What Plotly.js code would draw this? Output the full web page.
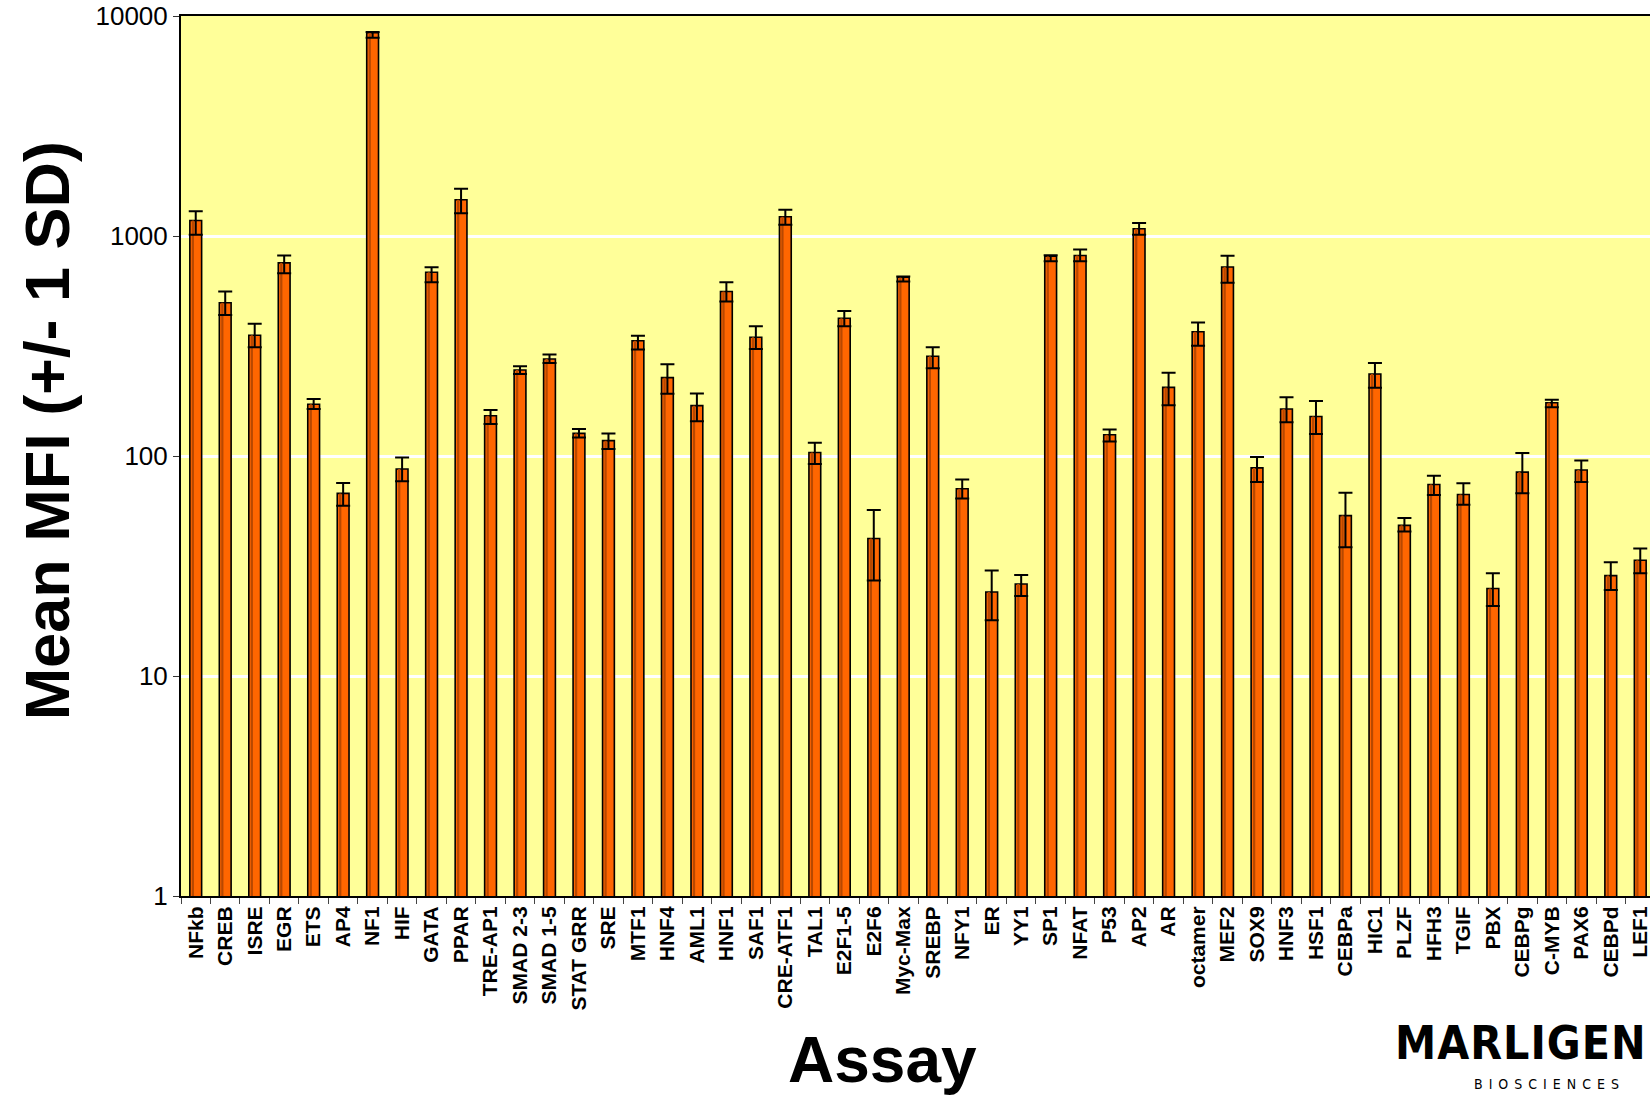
<!DOCTYPE html>
<html>
<head>
<meta charset="utf-8">
<title>Mean MFI by assay</title>
<script src="https://cdn.plot.ly/plotly-3.0.1.min.js"></script>
<style>
  html, body { margin: 0; padding: 0; background: #ffffff; overflow: hidden; }
  #chart { width: 1700px; height: 1095px; }
</style>
</head>
<body>
<div id="chart"></div>
<script>
// Transcription-factor assays, in plotting order
const assays = [
  'NFkb', 'CREB', 'ISRE', 'EGR', 'ETS', 'AP4', 'NF1', 'HIF', 'GATA', 'PPAR',
  'TRE-AP1', 'SMAD 2-3', 'SMAD 1-5', 'STAT GRR', 'SRE', 'MTF1', 'HNF4', 'AML1', 'HNF1', 'SAF1',
  'CRE-ATF1', 'TAL1', 'E2F1-5', 'E2F6', 'Myc-Max', 'SREBP', 'NFY1', 'ER', 'YY1', 'SP1',
  'NFAT', 'P53', 'AP2', 'AR', 'octamer', 'MEF2', 'SOX9', 'HNF3', 'HSF1', 'CEBPa',
  'HIC1', 'PLZF', 'HFH3', 'TGIF', 'PBX', 'CEBPg', 'C-MYB', 'PAX6', 'CEBPd', 'LEF1'
];

// Mean MFI per assay
const meanMFI = [
  1176, 497, 354, 755, 172, 67.6, 8400, 87.3, 684, 1461,
  152.5, 246, 276, 126.7, 117.4, 334, 227, 169.4, 559, 346.5,
  1223, 103.8, 423, 42.2, 649, 284, 71.0, 24.1, 26.2, 809,
  815, 125, 1078, 205, 367, 723, 88.3, 163.6, 151.2, 53.6,
  236, 48.4, 74.2, 66.8, 25.0, 84.5, 174.6, 86.4, 28.6, 33.6
];

// Upper whisker length (+1 SD)
const sdPlus = [
  121, 62, 45, 60, 9.6, 7.8, 60, 11.2, 37, 178,
  9.5, 9.7, 13, 6.0, 9.3, 17.6, 34, 23.2, 57, 42.3,
  93, 11.2, 33.7, 14.7, 5.2, 28, 7.2, 6.1, 2.6, 8.8,
  53, 7.1, 68, 33.8, 37, 90, 10.6, 21.2, 26.5, 14.4,
  29, 3.8, 7.1, 8.3, 4.3, 18.7, 5.4, 9.0, 4.3, 4.4
];

// Lower whisker length (-1 SD)
const sdMinus = [
  163, 59, 42, 78, 8.4, 8.2, 427, 10.5, 68, 192,
  12.7, 10, 11, 5.2, 9.8, 29.5, 35, 25.7, 55.4, 39.7,
  98.4, 11.8, 34.2, 15.0, 28, 33.7, 6.9, 6.2, 3.1, 41,
  47, 8.5, 64, 35, 50, 110, 12.1, 21.3, 25.2, 15.1,
  31.7, 3.0, 7.7, 6.8, 4.2, 16.8, 8.1, 10.2, 4.0, 4.3
];

// Log-axis tick positions and their labels
const yTickVals = [1, 10, 100, 1000, 10000];
const yTickText = ['1', '10', '100', '1000', '10000'];

const FONT = 'Arial, "Liberation Sans", sans-serif';
const LOGO_FONT = '"DejaVu Sans Condensed", "DejaVu Sans", sans-serif';

// Main orange bars with black outline
const barTrace = {
  type: 'bar',
  x: assays,
  y: meanMFI,
  width: 0.4,
  marker: { color: '#FF6600', line: { color: '#000000', width: 1.6 } },
  hoverinfo: 'x+y',
  showlegend: false
};

// Darker shading stripe inside each bar
const shadeTrace = {
  type: 'bar',
  x: assays,
  y: meanMFI,
  width: 0.075,
  offset: -0.135,
  marker: { color: '#B84800', line: { width: 0 } },
  hoverinfo: 'skip',
  showlegend: false
};

// +/- 1 SD whiskers drawn on top of the bars
const errTrace = {
  type: 'scatter',
  mode: 'markers',
  x: assays,
  y: meanMFI,
  marker: { size: 1, color: 'rgba(0,0,0,0)' },
  error_y: {
    type: 'data',
    symmetric: false,
    array: sdPlus,
    arrayminus: sdMinus,
    color: '#000000',
    thickness: 2,
    width: 7
  },
  hoverinfo: 'skip',
  showlegend: false
};

const layout = {
  width: 1700,
  height: 1095,
  margin: { l: 181, r: 45, t: 16, b: 199 },
  paper_bgcolor: '#ffffff',
  plot_bgcolor: '#FFFF99',
  barmode: 'overlay',
  font: { family: FONT, color: '#000000' },
  xaxis: {
    type: 'category',
    range: [-0.5, 49.5],
    tickangle: -90,
    tickfont: { family: FONT, size: 21, color: '#000000', weight: 'bold' },
    ticks: 'outside',
    tickson: 'boundaries',
    ticklen: 6,
    tickwidth: 1,
    tickcolor: '#444444',
    showline: true,
    linecolor: '#000000',
    linewidth: 2,
    mirror: true,
    showgrid: false,
    zeroline: false,
    fixedrange: true
  },
  yaxis: {
    type: 'log',
    range: [0, 4],
    tickmode: 'array',
    tickvals: yTickVals,
    ticktext: yTickText,
    tickfont: { family: FONT, size: 26, color: '#000000' },
    ticks: 'outside',
    ticklen: 6,
    tickwidth: 1,
    tickcolor: '#333333',
    showline: true,
    linecolor: '#000000',
    linewidth: 2,
    showgrid: true,
    gridcolor: '#ffffff',
    gridwidth: 3,
    zeroline: false,
    fixedrange: true
  },
  annotations: [
    {
      text: 'Mean MFI (+/- 1 SD)',
      textangle: -90,
      xref: 'paper', yref: 'paper',
      x: -0.0909, y: 0.528,
      xanchor: 'center', yanchor: 'middle',
      showarrow: false,
      font: { family: FONT, size: 63, color: '#000000', weight: 'bold' }
    },
    {
      text: 'Assay',
      xref: 'paper', yref: 'paper',
      x: 0.4759, y: -0.186,
      xanchor: 'center', yanchor: 'middle',
      showarrow: false,
      font: { family: FONT, size: 64, color: '#000000', weight: 'bold' }
    },
    {
      text: '<span style="letter-spacing:1px">MARLIGEN</span>',
      xref: 'paper', yref: 'paper',
      x: 0.8222, y: -0.1665,
      xanchor: 'left', yanchor: 'middle',
      showarrow: false,
      font: { family: LOGO_FONT, size: 46, color: '#000000', weight: 'bold' }
    },
    {
      text: '<span style="letter-spacing:6px">BIOSCIENCES</span>',
      xref: 'paper', yref: 'paper',
      x: 0.8759, y: -0.214,
      xanchor: 'left', yanchor: 'middle',
      showarrow: false,
      font: { family: LOGO_FONT, size: 14, color: '#000000' }
    }
  ]
};

Plotly.newPlot('chart', [barTrace, shadeTrace, errTrace], layout, { staticPlot: true, displayModeBar: false });
</script>
</body>
</html>
